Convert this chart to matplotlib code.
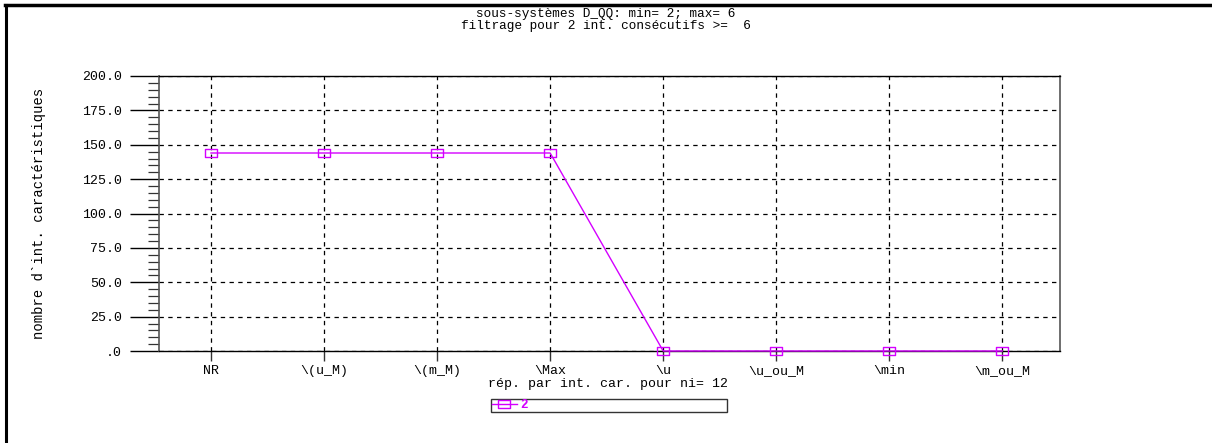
import matplotlib
matplotlib.use("Agg")
import matplotlib.pyplot as plt
from matplotlib.lines import Line2D
from matplotlib.path import Path
import matplotlib.ticker as mticker

categories = ["NR", "\\(u_M)", "\\(m_M)", "\\Max", "\\u", "\\u_ou_M", "\\min", "\\m_ou_M"]
values = [144, 144, 144, 144, 0, 0, 0, 0]
series_name = "2"
y_ticks = [0, 25, 50, 75, 100, 125, 150, 175, 200]
y_tick_labels = [".0", "25.0", "50.0", "75.0", "100.0", "125.0", "150.0", "175.0", "200.0"]
title1 = "sous-systèmes D_QQ: min= 2; max= 6"
title2 = "filtrage pour 2 int. consécutifs >=  6"
xlabel = "rép. par int. car. pour ni= 12"
ylabel = "nombre d`int. caractéristiques"

W, H = 1212, 443
FONT = ["Liberation Mono", "DejaVu Sans Mono"]
MAG = "#d400ff"

fig = plt.figure(figsize=(W / 100, H / 100), dpi=100)
fig.patch.set_facecolor("white")

# plot area in pixels
L, R, T, B = 159, 1060, 76, 351
ax = fig.add_axes([L / W, (H - B) / H, (R - L) / W, (B - T) / H])

xs = list(range(len(categories)))
rect = Path([(-1, -0.62), (1, -0.62), (1, 0.62), (-1, 0.62), (-1, -0.62)],
            [Path.MOVETO, Path.LINETO, Path.LINETO, Path.LINETO, Path.CLOSEPOLY])
ax.plot(xs, values, color=MAG, lw=1.0, marker=rect, markersize=9,
        markerfacecolor="none", markeredgecolor=MAG, markeredgewidth=1.0,
        label=series_name, zorder=5, clip_on=False)

ax.set_xlim(-0.46, 7.51)
ax.set_ylim(0, 200)

ax.set_xticks(xs)
ax.set_xticklabels(categories, fontfamily=FONT, fontsize=9.5)
ax.set_yticks(y_ticks)
ax.yaxis.set_major_formatter(mticker.FixedFormatter(y_tick_labels))
for lab in ax.get_yticklabels():
    lab.set_fontfamily(FONT)
    lab.set_fontsize(9.5)
ax.yaxis.set_minor_locator(mticker.MultipleLocator(5))

ax.tick_params(axis="y", which="major", direction="out", length=21, width=1,
               color="black", pad=5.5)
ax.tick_params(axis="y", which="minor", direction="out", length=8, width=0.9,
               color="#333333")
ax.tick_params(axis="x", which="major", direction="out", length=7, width=1,
               color="#333333", pad=3)

ax.grid(True, which="major", color="black", linestyle=(0, (3.5, 3.5)), linewidth=0.9)
ax.set_axisbelow(True)

for side in ["left", "right"]:
    ax.spines[side].set_color("#555555")
    ax.spines[side].set_linewidth(1.2)
for side in ["top", "bottom"]:
    ax.spines[side].set_color("black")
    ax.spines[side].set_linewidth(1.0)

# titles
fig.text(606 / W, 1 - 14 / H, title1, ha="center", va="center",
         fontfamily=FONT, fontsize=9.2)
fig.text(606 / W, 1 - 26 / H, title2, ha="center", va="center",
         fontfamily=FONT, fontsize=9.2)

# axis labels
fig.text(608 / W, 1 - 384 / H, xlabel, ha="center", va="center",
         fontfamily=FONT, fontsize=9.5)
fig.text(39 / W, 1 - 213 / H, ylabel, ha="center", va="center", rotation=90,
         fontfamily=FONT, fontsize=10)

# legend
leg = fig.legend(loc="lower left",
                 bbox_to_anchor=(491 / W, (H - 412) / H, 236 / W, 15 / H),
                 mode="expand", frameon=True, fancybox=False,
                 prop={"family": FONT, "size": 9, "weight": "bold"}, handlelength=2.0,
                 handletextpad=0.3, borderpad=0.05, borderaxespad=0)
leg.get_frame().set_edgecolor("black")
leg.get_frame().set_linewidth(1.0)
for t in leg.get_texts():
    t.set_color(MAG)

# figure border (left and top)
fig.add_artist(Line2D([5.5 / W, 5.5 / W], [0, 1 - 5 / H], transform=fig.transFigure,
                      color="black", lw=2.2))
fig.add_artist(Line2D([4.5 / W, 1], [1 - 5 / H, 1 - 5 / H], transform=fig.transFigure,
                      color="black", lw=2.5))

fig.savefig("out.png", dpi=100, facecolor="white")
